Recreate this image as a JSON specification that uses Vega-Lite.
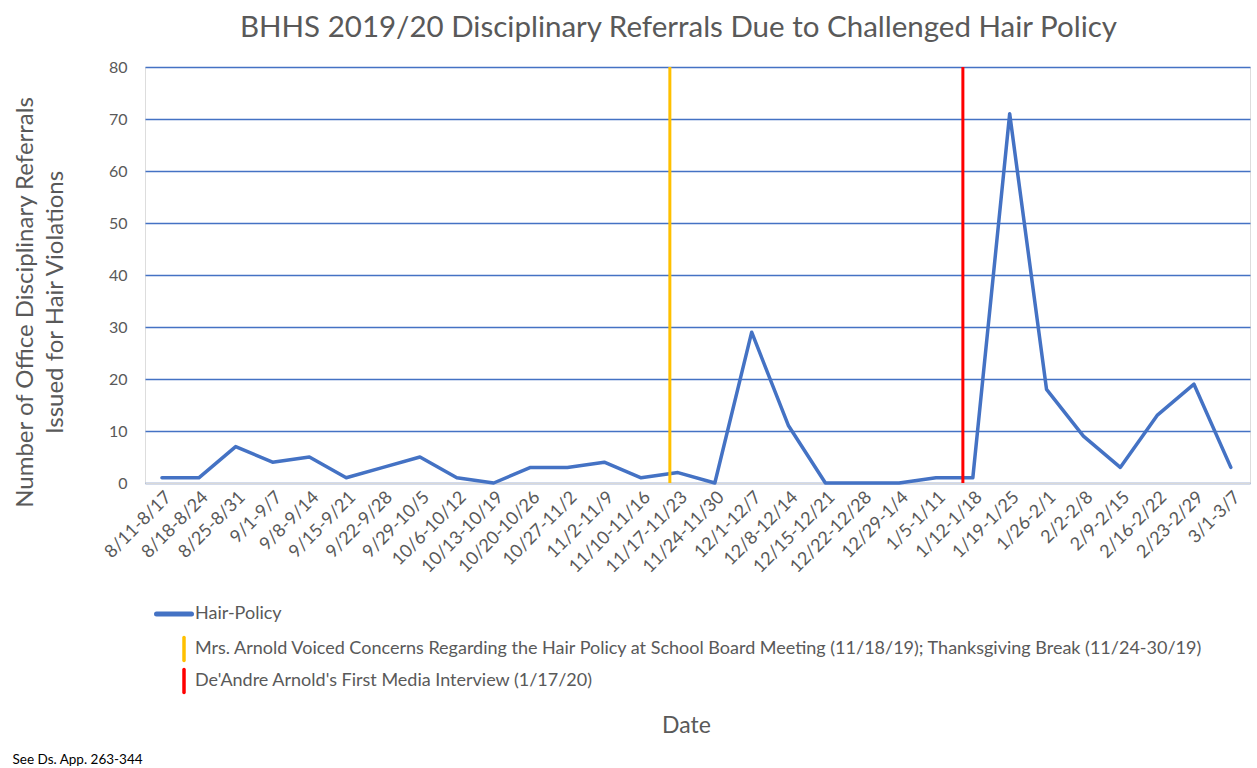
{
  "$schema": "https://vega.github.io/schema/vega-lite/v6.json",
  "padding": {"left": 12, "top": 12, "right": 3, "bottom": 2},
  "background": "white",
  "config": {"axisY": {"gridColor": "#4472C4", "gridOpacity": 1, "gridWidth": 1.3}},
  "title": {"text": "See Ds. App. 263-344", "orient": "bottom", "anchor": "start", "frame": "bounds", "fontSize": 13.5, "font": "Lato", "fontWeight": "normal", "color": "#000000", "offset": 15},
  "datasets": {
    "weekly": [
      {"week": "8/11-8/17", "weekNo": 0, "referrals": 1, "series": "Hair-Policy"},
      {"week": "8/18-8/24", "weekNo": 1, "referrals": 1, "series": "Hair-Policy"},
      {"week": "8/25-8/31", "weekNo": 2, "referrals": 7, "series": "Hair-Policy"},
      {"week": "9/1-9/7", "weekNo": 3, "referrals": 4, "series": "Hair-Policy"},
      {"week": "9/8-9/14", "weekNo": 4, "referrals": 5, "series": "Hair-Policy"},
      {"week": "9/15-9/21", "weekNo": 5, "referrals": 1, "series": "Hair-Policy"},
      {"week": "9/22-9/28", "weekNo": 6, "referrals": 3, "series": "Hair-Policy"},
      {"week": "9/29-10/5", "weekNo": 7, "referrals": 5, "series": "Hair-Policy"},
      {"week": "10/6-10/12", "weekNo": 8, "referrals": 1, "series": "Hair-Policy"},
      {"week": "10/13-10/19", "weekNo": 9, "referrals": 0, "series": "Hair-Policy"},
      {"week": "10/20-10/26", "weekNo": 10, "referrals": 3, "series": "Hair-Policy"},
      {"week": "10/27-11/2", "weekNo": 11, "referrals": 3, "series": "Hair-Policy"},
      {"week": "11/2-11/9", "weekNo": 12, "referrals": 4, "series": "Hair-Policy"},
      {"week": "11/10-11/16", "weekNo": 13, "referrals": 1, "series": "Hair-Policy"},
      {"week": "11/17-11/23", "weekNo": 14, "referrals": 2, "series": "Hair-Policy"},
      {"week": "11/24-11/30", "weekNo": 15, "referrals": 0, "series": "Hair-Policy"},
      {"week": "12/1-12/7", "weekNo": 16, "referrals": 29, "series": "Hair-Policy"},
      {"week": "12/8-12/14", "weekNo": 17, "referrals": 11, "series": "Hair-Policy"},
      {"week": "12/15-12/21", "weekNo": 18, "referrals": 0, "series": "Hair-Policy"},
      {"week": "12/22-12/28", "weekNo": 19, "referrals": 0, "series": "Hair-Policy"},
      {"week": "12/29-1/4", "weekNo": 20, "referrals": 0, "series": "Hair-Policy"},
      {"week": "1/5-1/11", "weekNo": 21, "referrals": 1, "series": "Hair-Policy"},
      {"week": "1/12-1/18", "weekNo": 22, "referrals": 1, "series": "Hair-Policy"},
      {"week": "1/19-1/25", "weekNo": 23, "referrals": 71, "series": "Hair-Policy"},
      {"week": "1/26-2/1", "weekNo": 24, "referrals": 18, "series": "Hair-Policy"},
      {"week": "2/2-2/8", "weekNo": 25, "referrals": 9, "series": "Hair-Policy"},
      {"week": "2/9-2/15", "weekNo": 26, "referrals": 3, "series": "Hair-Policy"},
      {"week": "2/16-2/22", "weekNo": 27, "referrals": 13, "series": "Hair-Policy"},
      {"week": "2/23-2/29", "weekNo": 28, "referrals": 19, "series": "Hair-Policy"},
      {"week": "3/1-3/7", "weekNo": 29, "referrals": 3, "series": "Hair-Policy"}
    ],
    "events": [
      {"series": "Mrs. Arnold Voiced Concerns Regarding the Hair Policy at School Board Meeting (11/18/19); Thanksgiving Break (11/24-30/19)", "weekNo": 13.78},
      {"series": "De'Andre Arnold's First Media Interview (1/17/20)", "weekNo": 21.73}
    ]
  },
  "vconcat": [
    {
      "title": {"text": "BHHS 2019/20 Disciplinary Referrals Due to Challenged Hair Policy", "anchor": "middle", "dx": -19, "fontSize": 29.5, "font": "Lato", "fontWeight": "normal", "color": "#595959", "offset": 16},
      "width": 1105,
      "height": 416,
      "layer": [
        {
          "data": {"name": "weekly"},
          "mark": {"type": "line", "strokeWidth": 3.5, "strokeJoin": "round", "strokeCap": "round"},
          "encoding": {
            "x": {
              "field": "weekNo", "type": "quantitative",
              "scale": {"domain": [-0.46, 29.52], "nice": false, "zero": false},
              "axis": {
                "values": [0,1,2,3,4,5,6,7,8,9,10,11,12,13,14,15,16,17,18,19,20,21,22,23,24,25,26,27,28,29],
                "tickCount": 60,
                "labelExpr": "['8/11-8/17','8/18-8/24','8/25-8/31','9/1-9/7','9/8-9/14','9/15-9/21','9/22-9/28','9/29-10/5','10/6-10/12','10/13-10/19','10/20-10/26','10/27-11/2','11/2-11/9','11/10-11/16','11/17-11/23','11/24-11/30','12/1-12/7','12/8-12/14','12/15-12/21','12/22-12/28','12/29-1/4','1/5-1/11','1/12-1/18','1/19-1/25','1/26-2/1','2/2-2/8','2/9-2/15','2/16-2/22','2/23-2/29','3/1-3/7'][datum.value]",
                "labelAngle": -45,
                "labelFontSize": 18,
                "labelFont": "Lato",
                "labelColor": "#595959",
                "labelPadding": 5,
                "labelOverlap": false,
                "grid": false,
                "ticks": false,
                "domain": true,
                "domainColor": "#D9D9D9",
                "domainWidth": 1.5,
                "title": "Date",
                "titleFont": "Lato",
                "titleFontSize": 23,
                "titleFontWeight": "normal",
                "titleColor": "#595959",
                "titleBaseline": "alphabetic",
                "titleX": 541,
                "titleY": 249
              }
            },
            "y": {
              "field": "referrals", "type": "quantitative",
              "scale": {"domain": [0, 80], "nice": false},
              "axis": {
                "values": [0,10,20,30,40,50,60,70,80],
                "grid": true,
                "gridColor": "#4472C4",
                "gridOpacity": 1,
                "gridWidth": 1.3,
                "domain": false,
                "ticks": false,
                "labelPadding": 18,
                "labelFontSize": 16,
                "labelFont": "Lato",
                "labelColor": "#595959",
                "title": ["Number of Office Disciplinary Referrals", "Issued for Hair Violations"],
                "titleFont": "Lato",
                "titleFontSize": 24,
                "titleFontWeight": "normal",
                "titleColor": "#595959",
                "titleLineHeight": 30,
                "titleBaseline": "alphabetic",
                "titleX": -113,
                "titleY": 235
              }
            },
            "color": {
              "field": "series", "type": "nominal",
              "scale": {
                "domain": ["Hair-Policy", "Mrs. Arnold Voiced Concerns Regarding the Hair Policy at School Board Meeting (11/18/19); Thanksgiving Break (11/24-30/19)", "De'Andre Arnold's First Media Interview (1/17/20)"],
                "range": ["#4472C4", "#FFC000", "#FF0000"]
              },
              "legend": {
                "title": null,
                "orient": "none",
                "legendX": 20,
                "legendY": 538,
                "direction": "vertical",
                "padding": 0,
                "labelFont": "Lato",
                "labelFontSize": 18,
                "labelColor": "#595959",
                "labelLimit": 1150,
                "labelOffset": 12,
                "rowPadding": -6,
                "symbolSize": 400,
                "symbolStrokeWidth": 4,
                "encode": {
                  "symbols": {
                    "update": {
                      "shape": {"signal": "datum.value === 'Hair-Policy' ? 'M-1.75,0L1.75,0M1,-1.15M1,1.15' : 'M1,-1.15L1,1.15'"},
                      "strokeWidth": {"signal": "datum.value === 'Hair-Policy' ? 5 : 3.5"},
                      "strokeCap": {"value": "round"}
                    }
                  }
                }
              }
            }
          }
        },
        {
          "data": {"name": "events"},
          "mark": {"type": "rule", "strokeWidth": 3},
          "encoding": {
            "x": {"field": "weekNo", "type": "quantitative"},
            "color": {"field": "series", "type": "nominal"}
          }
        }
      ]
    }
  ]
}
